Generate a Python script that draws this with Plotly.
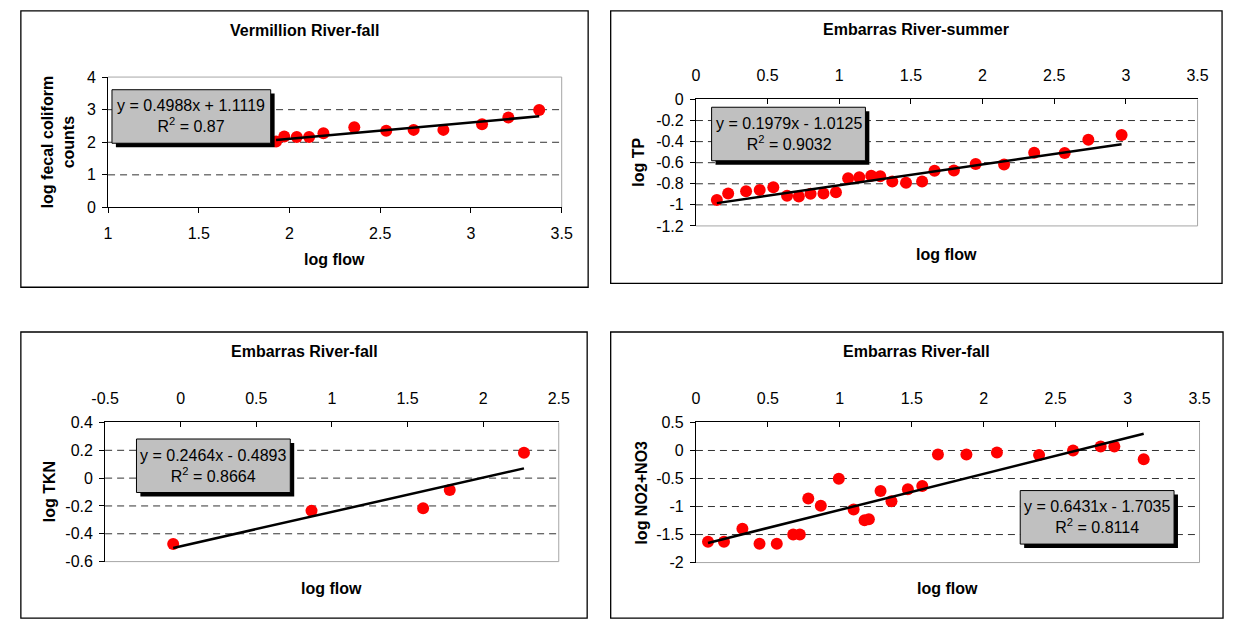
import plotly.graph_objects as go

W, H = 1236, 628
FONT = "Liberation Sans"
FS = 16

# ---------------- data ----------------
titles = ["Vermillion River-fall", "Embarras River-summer", "Embarras River-fall", "Embarras River-fall"]
y_titles = ["log fecal coliform<br>counts", "log TP", "log TKN", "log NO2+NO3"]
x_title = "log flow"

vr_fall_x = [1.926, 1.971, 2.04, 2.108, 2.187, 2.357, 2.533, 2.684, 2.848, 3.061, 3.206, 3.376]
vr_fall_y = [2.02, 2.18, 2.16, 2.16, 2.28, 2.46, 2.35, 2.38, 2.38, 2.55, 2.76, 2.99]

er_summer_x = [0.146, 0.225, 0.35, 0.445, 0.54, 0.636, 0.718, 0.8, 0.89, 0.977, 1.062, 1.14,
               1.223, 1.286, 1.37, 1.466, 1.578, 1.665, 1.8, 1.952, 2.15, 2.36, 2.573, 2.738, 2.97]
er_summer_tp = [-0.954, -0.892, -0.871, -0.858, -0.834, -0.914, -0.92, -0.895, -0.892, -0.88, -0.748, -0.738,
                -0.723, -0.729, -0.778, -0.79, -0.778, -0.677, -0.674, -0.612, -0.618, -0.505, -0.508, -0.382, -0.338]

er_fall_tkn_x = [-0.05, 0.865, 1.603, 1.779, 2.27]
er_fall_tkn_y = [-0.473, -0.234, -0.217, -0.086, 0.182]

er_fall_no_x = [0.084, 0.195, 0.323, 0.442, 0.562, 0.676, 0.722, 0.781, 0.868, 0.993, 1.096, 1.172, 1.202,
                1.283, 1.359, 1.473, 1.573, 1.682, 1.88, 2.092, 2.385, 2.621, 2.813, 2.908, 3.112]
er_fall_no_y = [-1.628, -1.628, -1.395, -1.663, -1.663, -1.5, -1.5, -0.855, -0.988, -0.506, -1.052, -1.244, -1.227,
                -0.721, -0.907, -0.692, -0.634, -0.07, -0.07, -0.035, -0.081, 0.0, 0.07, 0.07, -0.157]

slopes = [0.4988, 0.1979, 0.2464, 0.6431]
intercepts = [1.1119, -1.0125, -0.4893, -1.7035]
r2_labels = ["0.87", "0.9032", "0.8664", "0.8114"]

x_ticks = [
    [1, 1.5, 2, 2.5, 3, 3.5],
    [0, 0.5, 1, 1.5, 2, 2.5, 3, 3.5],
    [-0.5, 0, 0.5, 1, 1.5, 2, 2.5],
    [0, 0.5, 1, 1.5, 2, 2.5, 3, 3.5],
]
x_tick_text = [
    ["1", "1.5", "2", "2.5", "3", "3.5"],
    ["0", "0.5", "1", "1.5", "2", "2.5", "3", "3.5"],
    ["-0.5", "0", "0.5", "1", "1.5", "2", "2.5"],
    ["0", "0.5", "1", "1.5", "2", "2.5", "3", "3.5"],
]
y_ticks = [
    [0, 1, 2, 3, 4],
    [-1.2, -1, -0.8, -0.6, -0.4, -0.2, 0],
    [-0.6, -0.4, -0.2, 0, 0.2, 0.4],
    [-2, -1.5, -1, -0.5, 0, 0.5],
]
y_tick_text = [
    ["0", "1", "2", "3", "4"],
    ["-1.2", "-1", "-0.8", "-0.6", "-0.4", "-0.2", "0"],
    ["-0.6", "-0.4", "-0.2", "0", "0.2", "0.4"],
    ["-2", "-1.5", "-1", "-0.5", "0", "0.5"],
]

series_x = [vr_fall_x, er_summer_x, er_fall_tkn_x, er_fall_no_x]
series_y = [vr_fall_y, er_summer_tp, er_fall_tkn_y, er_fall_no_y]

# ---------------- layout geometry (pixels) ----------------
panels = [(7, 3, 586, 287), (609, 3, 1233, 283), (7, 333, 585, 627), (609, 333, 1234, 627)]
plots = [(96, 71, 559, 205), (696, 94, 1208, 224), (93, 426, 556, 569), (696, 426, 1210, 570)]
boxes = [(100, 84, 262, 139), (712, 102, 869, 157), (125, 443, 282, 498), (1027, 496, 1184, 551)]
xtitle_y = [258, 253, 597, 597]
ytitle_x = [45, 638, 36, 640]
title_y = [23, 22, 353, 353]
x_side = ["bottom", "top", "top", "top"]


def px(x):
    return x / W


def py(y):
    return 1 - y / H


fig = go.Figure()
shapes = []
annotations = []
layout = dict(
    width=W, height=H, margin=dict(l=0, r=0, t=0, b=0),
    paper_bgcolor="white", plot_bgcolor="white", showlegend=False,
    font=dict(family=FONT, size=FS, color="black"),
)

for i in range(4):
    n = i + 1
    xa = "x" if n == 1 else f"x{n}"
    ya = "y" if n == 1 else f"y{n}"
    xkey = "xaxis" if n == 1 else f"xaxis{n}"
    ykey = "yaxis" if n == 1 else f"yaxis{n}"
    l, t, r, b = plots[i]

    xs, ys = series_x[i], series_y[i]
    fig.add_trace(go.Scatter(x=xs, y=ys, mode="markers", xaxis=xa, yaxis=ya,
                             marker=dict(color="#FF0000", size=12, line=dict(width=0)),
                             hoverinfo="skip"))
    x0, x1 = min(xs), max(xs)
    fig.add_trace(go.Scatter(x=[x0, x1], y=[slopes[i] * x0 + intercepts[i], slopes[i] * x1 + intercepts[i]],
                             mode="lines", xaxis=xa, yaxis=ya,
                             line=dict(color="black", width=2.5), hoverinfo="skip"))

    top_side = x_side[i] == "top"
    layout[xkey] = dict(
        domain=[px(l), px(r)], anchor=ya, side=x_side[i],
        range=[x_ticks[i][0], x_ticks[i][-1]],
        tickmode="array", tickvals=x_ticks[i], ticktext=x_tick_text[i],
        ticks="inside" if top_side else "outside", ticklen=5, tickcolor="black", tickwidth=1,
        ticklabelstandoff=11 if top_side else 6,
        showline=True, linecolor="black", linewidth=1,
        showgrid=False, zeroline=False, fixedrange=True,
        tickfont=dict(family=FONT, size=FS, color="black"),
    )
    layout[ykey] = dict(
        domain=[py(b), py(t)], anchor=xa,
        range=[y_ticks[i][0], y_ticks[i][-1]],
        tickmode="array", tickvals=y_ticks[i], ticktext=y_tick_text[i],
        ticks="outside", ticklen=5, tickcolor="black", tickwidth=1,
        ticklabelstandoff=3,
        showline=True, linecolor="black", linewidth=1,
        showgrid=False, zeroline=False, fixedrange=True,
        tickfont=dict(family=FONT, size=FS, color="black"),
    )

    # dashed gridlines at interior y ticks
    for v in y_ticks[i][1:-1]:
        shapes.append(dict(type="line", xref=f"{xa} domain", yref=ya, x0=0, x1=1, y0=v, y1=v,
                           line=dict(color="#333333", width=1, dash="7px,5px"), layer="below"))
    # gray plot-area border (sides without axis line)
    gray = dict(color="#A6A6A6", width=1)
    shapes.append(dict(type="line", xref=f"{xa} domain", yref=f"{ya} domain", x0=1, x1=1, y0=0, y1=1,
                       line=gray, layer="below"))
    if top_side:
        shapes.append(dict(type="line", xref=f"{xa} domain", yref=f"{ya} domain", x0=0, x1=1, y0=0, y1=0,
                           line=gray, layer="below"))
    else:
        shapes.append(dict(type="line", xref=f"{xa} domain", yref=f"{ya} domain", x0=0, x1=1, y0=1, y1=1,
                           line=gray, layer="below"))

    # panel outer border
    pl, pt, pr, pb = panels[i]
    shapes.append(dict(type="rect", xref="paper", yref="paper", x0=px(pl), x1=px(pr), y0=py(pb), y1=py(pt),
                       line=dict(color="black", width=1.3), fillcolor="rgba(0,0,0,0)", layer="below"))

    # equation box with shadow
    bl, bt, br, bb = boxes[i]
    shapes.append(dict(type="rect", xref="paper", yref="paper",
                       x0=px(bl + 4), x1=px(br + 4), y0=py(bb + 4), y1=py(bt + 4),
                       line=dict(width=0), fillcolor="black", layer="above"))
    shapes.append(dict(type="rect", xref="paper", yref="paper",
                       x0=px(bl), x1=px(br), y0=py(bb), y1=py(bt),
                       line=dict(color="black", width=1), fillcolor="#C0C0C0", layer="above"))
    sign = "+" if intercepts[i] >= 0 else "-"
    eq = f"y = {slopes[i]:.4f}x {sign} {abs(intercepts[i]):.4f}<br>R<sup>2</sup> = {r2_labels[i]}"
    annotations.append(dict(text=eq, xref="paper", yref="paper", x=px((bl + br) / 2), y=py((bt + bb) / 2),
                            xanchor="center", yanchor="middle", showarrow=False, align="center",
                            font=dict(family=FONT, size=FS, color="black")))

    # titles
    annotations.append(dict(text=f"<b>{titles[i]}</b>", xref="paper", yref="paper",
                            x=px((pl + pr) / 2), y=py(title_y[i]), xanchor="center", yanchor="middle",
                            showarrow=False, font=dict(family=FONT, size=FS, color="black")))
    annotations.append(dict(text=f"<b>{x_title}</b>", xref="paper", yref="paper",
                            x=px((l + r) / 2), y=py(xtitle_y[i]), xanchor="center", yanchor="middle",
                            showarrow=False, font=dict(family=FONT, size=FS, color="black")))
    annotations.append(dict(text=f"<b>{y_titles[i]}</b>", xref="paper", yref="paper",
                            x=px(ytitle_x[i]), y=py((t + b) / 2), xanchor="center", yanchor="middle",
                            textangle=-90, showarrow=False, font=dict(family=FONT, size=FS, color="black")))

layout["shapes"] = shapes
layout["annotations"] = annotations
fig.update_layout(**layout)
fig.write_html(
    "out.html",
    config={"displayModeBar": False},
    post_script="document.body.style.margin='0';document.body.style.overflow='hidden';",
)
